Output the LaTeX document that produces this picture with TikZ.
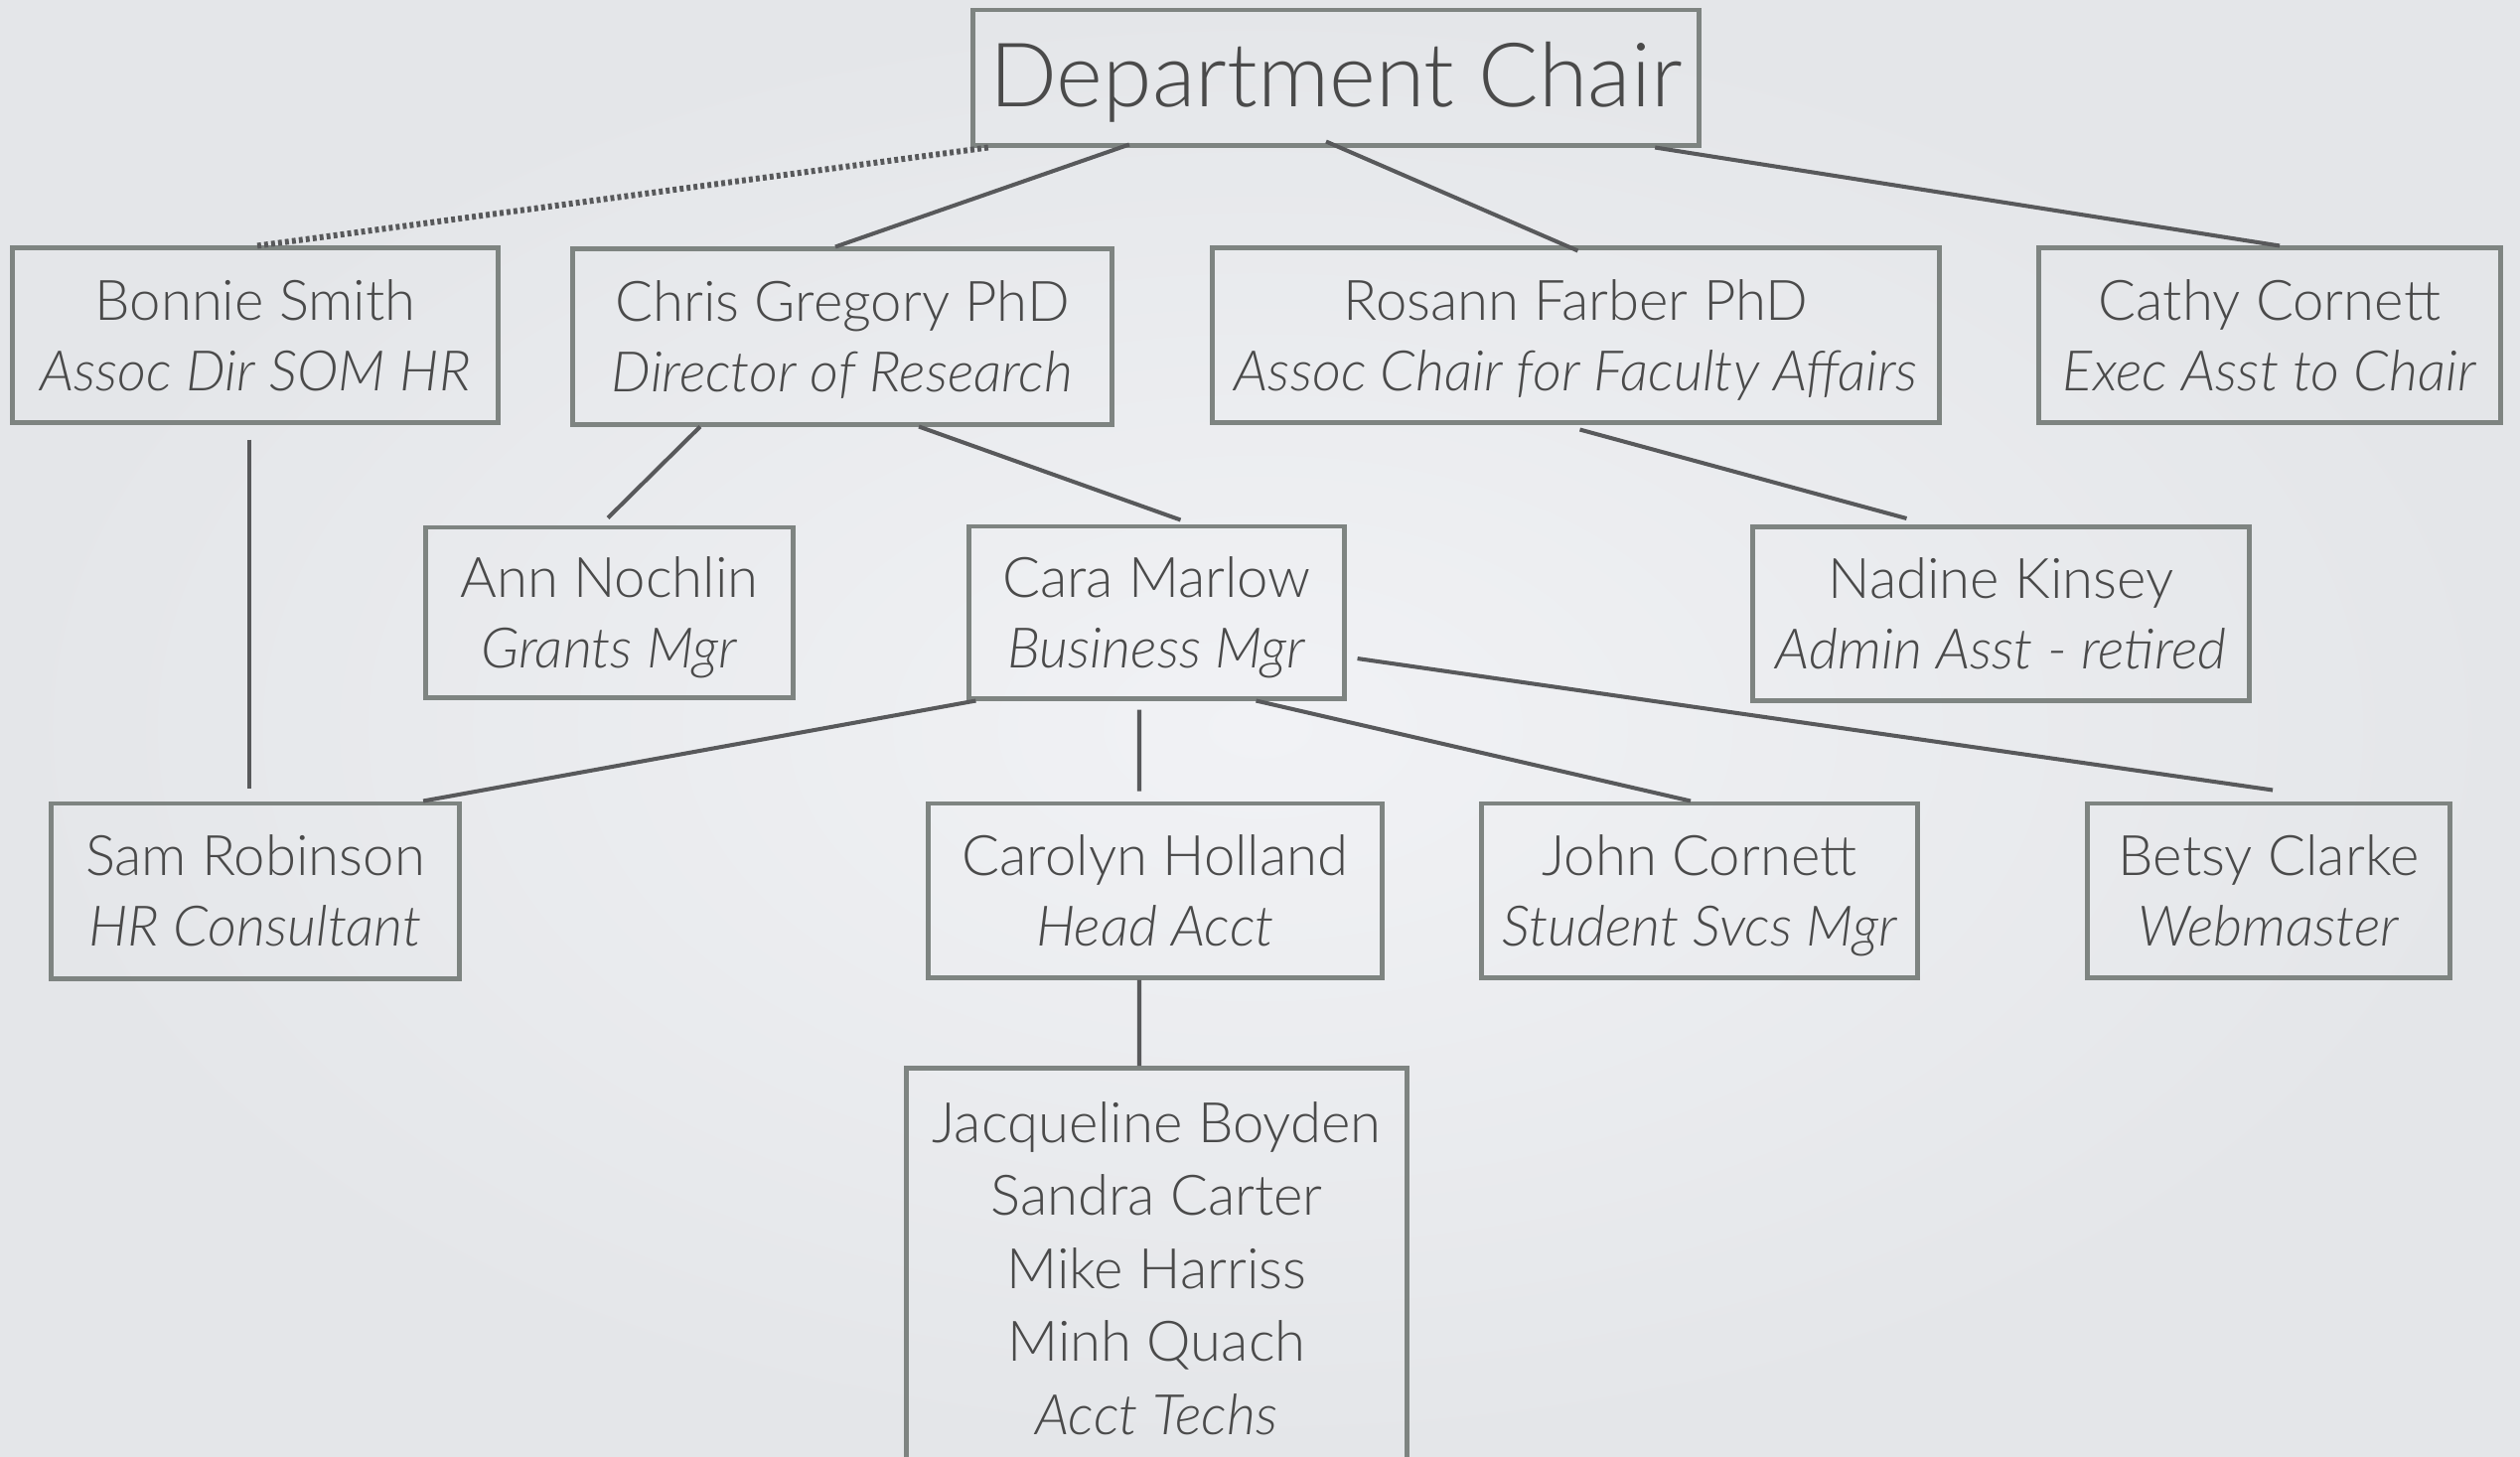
\documentclass[tikz,border=0pt]{standalone}
\usepackage{fontspec}
\setmainfont{Lato Light}
\usetikzlibrary{calc}
\definecolor{bginner}{HTML}{F1F2F5}
\definecolor{bgouter}{HTML}{E4E6E9}
\definecolor{boxc}{HTML}{7E8481}
\definecolor{linec}{HTML}{58595B}
\definecolor{txt}{HTML}{4A4A4A}
\newcommand{\lnstrut}{\rule[-4.4pt]{0pt}{20.2pt}}
\newcommand{\jstrut}{\rule[-4.4pt]{0pt}{20.9pt}}
\begin{document}
\begin{tikzpicture}[x=0.01cm,y=-0.01cm,
  orgbox/.style={draw=boxc, line width=1.4pt, rectangle, inner sep=0pt, align=center, text=txt, font=\fontsize{16}{20.2}\selectfont},
  conn/.style={draw=linec, line width=1.15pt},
  dotconn/.style={draw=linec, line width=1.7pt, dash pattern=on 1.1pt off 0.9pt},
]
\useasboundingbox (0,0) rectangle (2537,1466);
\clip (0,0) rectangle (2537,1466);
\shade[inner color=bginner, outer color=bgouter] (0,0) rectangle (2537,1466);

\node[orgbox, minimum width=7.3cm, minimum height=1.36cm, font=\fontsize{25.5}{30}\selectfont, text height=20pt, text depth=3pt] (chair) at (1345,78) {Department Chair};

\node[orgbox, minimum width=4.88cm, minimum height=1.75cm] (bonnie) at (257,337.5) {\lnstrut Bonnie Smith\\\lnstrut\textit{Assoc Dir SOM HR}};
\node[orgbox, minimum width=5.42cm, minimum height=1.76cm] (chris) at (848,339) {\lnstrut Chris Gregory PhD\\\lnstrut\textit{Director of Research}};
\node[orgbox, minimum width=7.31cm, minimum height=1.75cm] (rosann) at (1586.5,337.5) {\lnstrut Rosann Farber PhD\\\lnstrut\textit{Assoc Chair for Faculty Affairs}};
\node[orgbox, minimum width=4.64cm, minimum height=1.75cm] (cathy) at (2285,337.5) {\lnstrut Cathy Cornett\\\lnstrut\textit{Exec Asst to Chair}};

\node[orgbox, minimum width=3.69cm, minimum height=1.71cm] (ann) at (613.5,616.5) {\lnstrut Ann Nochlin\\\lnstrut\textit{Grants Mgr}};
\node[orgbox, minimum width=3.77cm, minimum height=1.73cm] (cara) at (1164.5,616.5) {\lnstrut Cara Marlow\\\lnstrut\textit{Business Mgr}};
\node[orgbox, minimum width=4.99cm, minimum height=1.75cm] (nadine) at (2014.5,618) {\lnstrut Nadine Kinsey\\\lnstrut\textit{Admin Asst - retired}};

\node[orgbox, minimum width=4.10cm, minimum height=1.76cm] (sam) at (257,897) {\lnstrut Sam Robinson\\\lnstrut\textit{HR Consultant}};
\node[orgbox, minimum width=4.56cm, minimum height=1.75cm] (carolyn) at (1163,896.5) {\lnstrut Carolyn Holland\\\lnstrut\textit{Head Acct}};
\node[orgbox, minimum width=4.38cm, minimum height=1.75cm] (john) at (1711,896.5) {\lnstrut John Cornett\\\lnstrut\textit{Student Svcs Mgr}};
\node[orgbox, minimum width=3.64cm, minimum height=1.75cm] (betsy) at (2284,896.5) {\lnstrut Betsy Clarke\\\lnstrut\textit{Webmaster}};

\node[orgbox, minimum width=5.03cm, anchor=north, inner ysep=4.8pt, font=\fontsize{16}{20.9}\selectfont] (jacq) at (1164.5,1073) {\jstrut Jacqueline Boyden\\\jstrut Sandra Carter\\\jstrut Mike Harriss\\\jstrut Minh Quach\\\rule[-30pt]{0pt}{20.9pt}\textit{Acct Techs}};

\draw[dotconn] ([xshift=-3.5cm]chair.south) -- ([xshift=0.02cm]bonnie.north);
\draw[conn] ([xshift=-2.08cm,yshift=0.03cm]chair.south) -- ([xshift=-0.07cm]chris.north);
\draw[conn] ([xshift=-0.1cm,yshift=0.06cm]chair.south) -- ([xshift=0.02cm,yshift=-0.05cm]rosann.north);
\draw[conn] ([xshift=3.21cm]chair.south) -- ([xshift=0.1cm]cathy.north);
\draw[conn, line width=0.9pt] ([xshift=-0.06cm,yshift=-0.15cm]bonnie.south) -- ([xshift=-0.06cm,yshift=0.13cm]sam.north);
\draw[conn] ([xshift=-1.43cm]chris.south) -- ([xshift=-0.015cm,yshift=0.07cm]ann.north);
\draw[conn] ([xshift=0.77cm]chris.south) -- ([xshift=0.24cm,yshift=0.04cm]cara.north);
\draw[conn] ([xshift=0.04cm,yshift=-0.05cm]rosann.south) -- ([xshift=-0.95cm,yshift=0.06cm]nadine.north);
\draw[conn] ([xshift=-1.82cm]cara.south) -- ([xshift=1.69cm]sam.north);
\draw[conn] ([xshift=-0.175cm,yshift=-0.09cm]cara.south) -- ([xshift=-0.16cm,yshift=0.1cm]carolyn.north);
\draw[conn] ([xshift=1.0cm]cara.south) -- ([xshift=-0.09cm]john.north);
\draw[conn] ([xshift=0.11cm,yshift=-0.465cm]cara.east) -- ([xshift=0.04cm,yshift=0.11cm]betsy.north);
\draw[conn] ([xshift=-0.16cm]carolyn.south) -- ([xshift=-0.175cm]jacq.north);
\end{tikzpicture}
\end{document}
